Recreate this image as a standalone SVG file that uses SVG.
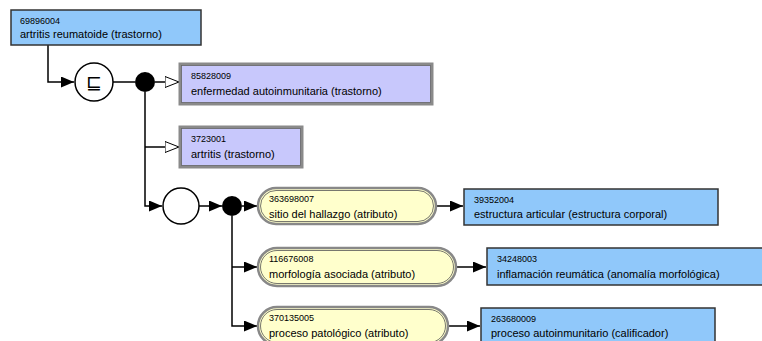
<svg xmlns="http://www.w3.org/2000/svg" width="762" height="341" viewBox="0 0 762 341">
<defs>
<marker id="fa" viewBox="0 0 13 11" refX="13" refY="5.5" markerWidth="13" markerHeight="11" markerUnits="userSpaceOnUse" orient="auto">
<path d="M0,0 L13,5.5 L0,11 z" fill="#000"/>
</marker>
<marker id="oa" viewBox="0 0 15 12" refX="14.5" refY="6" markerWidth="15" markerHeight="12" markerUnits="userSpaceOnUse" orient="auto">
<path d="M0.5,0.5 L14.5,6 L0.5,11.5 z" fill="#fff" stroke="#000" stroke-width="1"/>
</marker>
</defs>
<style>
.c{fill:#90c8fa;stroke:#333;stroke-width:1.5}
.p{fill:#c8c8fc;stroke:#8a8a8a;stroke-width:3}
.pi{fill:none;stroke:#666;stroke-width:0.8}
.a{fill:#ffffcc;stroke:#888;stroke-width:2.5}
.ai2{fill:none;stroke:#555;stroke-width:0.8}
.id{font-family:"Liberation Sans",Arial,sans-serif;font-size:9px;fill:#000}
.t{font-family:"Liberation Sans",Arial,sans-serif;font-size:11px;fill:#000}
.l{fill:none;stroke:#000;stroke-width:1.5}
</style>
<g id="connectors">
<path class="l" d="M48,45 V82 H74" marker-end="url(#fa)"/>
<path class="l" d="M113,82 H135"/>
<path class="l" d="M155,82 H179" marker-end="url(#oa)"/>
<path class="l" d="M145,92 V206 H162" marker-end="url(#fa)"/>
<path class="l" d="M145,147 H179" marker-end="url(#oa)"/>
<path class="l" d="M199,206 H222" marker-end="url(#fa)"/>
<path class="l" d="M242,206 H257" marker-end="url(#fa)"/>
<path class="l" d="M232,216 V326 H257" marker-end="url(#fa)"/>
<path class="l" d="M232,267 H257" marker-end="url(#fa)"/>
<path class="l" d="M436,206 H463" marker-end="url(#fa)"/>
<path class="l" d="M456,267 H486" marker-end="url(#fa)"/>
<path class="l" d="M448,326 H480" marker-end="url(#fa)"/>
</g>
<g id="n69896004">
<rect class="c" x="11" y="10" width="190" height="35"/>
<text class="id" x="20" y="24">69896004</text>
<text class="t" x="20" y="38">artritis reumatoide (trastorno)</text>
</g>
<g id="sub1">
<circle cx="94" cy="82" r="19" fill="#fff" stroke="#000" stroke-width="1.5"/>
<text x="94" y="89" text-anchor="middle" font-family="DejaVu Sans,sans-serif" font-size="19">⊑</text>
</g>
<g id="conj1">
<circle cx="145" cy="82" r="10" fill="#000"/>
</g>
<g id="n85828009">
<rect class="p" x="180" y="64" width="252" height="40"/>
<rect class="pi" x="181.5" y="65.5" width="249" height="37"/>
<text class="id" x="191" y="79">85828009</text>
<text class="t" x="191" y="95">enfermedad autoinmunitaria (trastorno)</text>
</g>
<g id="n3723001">
<rect class="p" x="180" y="127" width="122" height="40"/>
<rect class="pi" x="181.5" y="128.5" width="119" height="37"/>
<text class="id" x="191" y="142">3723001</text>
<text class="t" x="191" y="158">artritis (trastorno)</text>
</g>
<g id="group1">
<circle cx="181" cy="206" r="18" fill="#fff" stroke="#000" stroke-width="1.5"/>
</g>
<g id="conj2">
<circle cx="232" cy="206" r="10" fill="#000"/>
</g>
<g id="a363698007">
<rect class="a" x="258" y="188" width="178" height="36" rx="18"/>
<rect class="ai2" x="260.5" y="190.5" width="173" height="31" rx="15.5"/>
<text class="id" x="269" y="202">363698007</text>
<text class="t" x="269" y="218">sitio del hallazgo (atributo)</text>
</g>
<g id="a116676008">
<rect class="a" x="258" y="248" width="198" height="38" rx="19"/>
<rect class="ai2" x="260.5" y="250.5" width="193" height="33" rx="16.5"/>
<text class="id" x="269" y="262">116676008</text>
<text class="t" x="269" y="278">morfología asociada (atributo)</text>
</g>
<g id="a370135005">
<rect class="a" x="258" y="307" width="190" height="38" rx="19"/>
<rect class="ai2" x="260.5" y="309.5" width="185" height="33" rx="16.5"/>
<text class="id" x="269" y="321">370135005</text>
<text class="t" x="269" y="337">proceso patológico (atributo)</text>
</g>
<g id="n39352004">
<rect class="c" x="464" y="189" width="254" height="36"/>
<text class="id" x="474" y="203">39352004</text>
<text class="t" x="474" y="218">estructura articular (estructura corporal)</text>
</g>
<g id="n34248003">
<rect class="c" x="487" y="248" width="280" height="37"/>
<text class="id" x="497" y="262">34248003</text>
<text class="t" x="497" y="278">inflamación reumática (anomalía morfológica)</text>
</g>
<g id="n263680009">
<rect class="c" x="481" y="308" width="234" height="40"/>
<text class="id" x="491" y="322">263680009</text>
<text class="t" x="491" y="337">proceso autoinmunitario (calificador)</text>
</g>
</svg>
